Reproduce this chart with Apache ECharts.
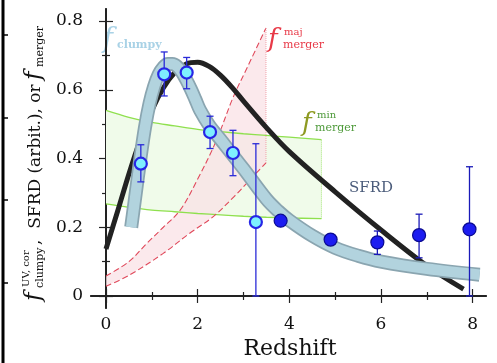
<!DOCTYPE html>
<html>
<head>
<meta charset="utf-8">
<script src="https://cdn.jsdelivr.net/npm/echarts@6/dist/echarts.min.js"></script>
<style>
  html, body { margin: 0; padding: 0; background: #fff; }
  #chart { width: 497px; height: 363px; }
</style>
</head>
<body>
<div id="chart"></div>
<script>
// ---- data ----
// measured clumpy fractions (low redshift, light symbols)
const clumpyZ  = [0.76, 1.27, 1.76, 2.27, 2.77, 3.27];
const clumpyF  = [0.385, 0.645, 0.65, 0.477, 0.416, 0.215];
const clumpyLo = [0.332, 0.582, 0.603, 0.429, 0.35, 0.0];
const clumpyHi = [0.44, 0.71, 0.694, 0.523, 0.482, 0.443];

// measured clumpy fractions (high redshift, dark symbols)
const highZ  = [3.81, 4.9, 5.92, 6.83, 7.93];
const highF  = [0.219, 0.164, 0.156, 0.177, 0.194];
const highLo = [0.219, 0.164, 0.121, 0.111, 0.0];
const highHi = [0.219, 0.164, 0.189, 0.238, 0.376];

// cosmic star-formation rate density (arbitrary units)
const sfrdZ = [0, 0.25, 0.5, 0.75, 1.0, 1.25, 1.5, 1.75, 2.0, 2.25, 2.5, 2.75, 3.0, 3.5, 4.0, 5.0, 6.0, 7.0, 7.8];
const sfrdY = [0.137, 0.245, 0.355, 0.455, 0.54, 0.605, 0.65, 0.675, 0.68, 0.668, 0.642, 0.607, 0.567, 0.49, 0.42, 0.303, 0.192, 0.088, 0.02];

// clumpy-fraction trend
const trendZ = [0.55, 0.65, 0.75, 0.85, 0.95, 1.05, 1.15, 1.25, 1.35, 1.45, 1.55, 1.65, 1.75, 1.85, 1.95, 2.05,
                2.25, 2.5, 3.0, 3.5, 3.75, 4.0, 4.5, 5.0, 5.5, 6.0, 7.0, 8.15];
const trendY = [0.2, 0.3, 0.4, 0.49, 0.56, 0.61, 0.645, 0.665, 0.675, 0.675, 0.668, 0.652, 0.629, 0.602, 0.572, 0.541,
                0.497, 0.455, 0.37, 0.282, 0.248, 0.22, 0.175, 0.14, 0.117, 0.1, 0.079, 0.062];

// major-merger fraction range
const majZ  = [0, 0.5, 0.89, 1.25, 1.62, 2.0, 2.4, 2.78, 3.1, 3.49];
const majHi = [0.058, 0.1, 0.153, 0.2, 0.25, 0.34, 0.45, 0.58, 0.67, 0.78];
const majLoZ = [0, 0.5, 1.25, 1.8, 2.34, 2.8, 3.14, 3.49];
const majLo  = [0.028, 0.06, 0.124, 0.18, 0.231, 0.29, 0.338, 0.387];

// minor-merger fraction range
const minZ  = [0, 0.5, 1, 1.5, 2, 2.5, 3, 3.5, 4, 4.7];
const minHi = [0.54, 0.52, 0.505, 0.495, 0.485, 0.478, 0.472, 0.467, 0.462, 0.455];
const minLo = [0.268, 0.258, 0.25, 0.245, 0.24, 0.236, 0.232, 0.229, 0.227, 0.225];

// axis ticks
const xMajor = [0, 2, 4, 6, 8];
const xMinor = [1, 3, 5, 7];
const yMajor = [0, 0.2, 0.4, 0.6, 0.8];
const yMinor = [0.1, 0.3, 0.5, 0.7];

// ---- helpers ----
const SERIF = '"DejaVu Serif", "Liberation Serif", serif';
const zip = (a, b) => a.map((v, i) => [v, b[i]]);

function bandPolygon(name, upper, lower, fill) {
  return {
    name, type: 'custom', silent: true, z: 1, clip: true,
    data: [[0, 0]],
    renderItem: (params, api) => {
      const pts = upper.map(p => api.coord(p)).concat(lower.slice().reverse().map(p => api.coord(p)));
      return { type: 'polygon', shape: { points: pts }, style: { fill: fill } };
    }
  };
}

function errorBars(name, xs, lo, hi, color) {
  return {
    name, type: 'custom', silent: true, z: 8,
    data: xs.map((x, i) => [x, lo[i], hi[i]]),
    renderItem: (params, api) => {
      const x = api.value(0);
      const a = api.coord([x, api.value(1)]);
      const b = api.coord([x, api.value(2)]);
      if (Math.abs(a[1] - b[1]) < 1) return { type: 'group', children: [] };
      const cap = 3.5;
      const st = { stroke: color, lineWidth: 1.3 };
      return {
        type: 'group', children: [
          { type: 'line', shape: { x1: a[0], y1: a[1], x2: b[0], y2: b[1] }, style: st },
          { type: 'line', shape: { x1: a[0] - cap, y1: a[1], x2: a[0] + cap, y2: a[1] }, style: st },
          { type: 'line', shape: { x1: b[0] - cap, y1: b[1], x2: b[0] + cap, y2: b[1] }, style: st }
        ]
      };
    }
  };
}

function lineSeries(name, data, style, z, smooth) {
  return {
    name, type: 'line', data, symbol: 'none', silent: true, z,
    smooth: smooth === undefined ? 0.35 : smooth,
    lineStyle: style
  };
}

function xAx(pos, ticks, len, labels) {
  return {
    type: 'value', position: pos, min: -0.327, max: 8.29,
    axisLine: { show: true, lineStyle: { color: '#222', width: 1.5 } },
    axisTick: { show: true, inside: true, length: len, customValues: ticks, lineStyle: { color: '#222', width: 1.2 } },
    axisLabel: labels ? { show: true, customValues: ticks, color: '#111', fontFamily: SERIF, fontSize: 17, margin: 8,
                          formatter: v => String(v) } : { show: false },
    splitLine: { show: false }
  };
}
function yAx(pos, ticks, len, labels) {
  return {
    type: 'value', position: pos, min: -0.035, max: 0.835,
    axisLine: { show: true, lineStyle: { color: '#222', width: 1.5 } },
    axisTick: { show: true, inside: true, length: len, customValues: ticks, lineStyle: { color: '#222', width: 1.2 } },
    axisLabel: labels ? { show: true, customValues: ticks, color: '#111', fontFamily: SERIF, fontSize: 17, margin: 8,
                          formatter: v => (v === 0 ? '0' : v.toFixed(1)) } : { show: false },
    splitLine: { show: false }
  };
}

// ---- annotations (text placed by its vertical centre) ----
function txt(x, y, text, size, fill, opts) {
  opts = opts || {};
  return {
    type: 'text', x, y, silent: true,
    style: {
      text, fill, fontFamily: SERIF, fontSize: size,
      fontStyle: opts.italic ? 'italic' : 'normal',
      fontWeight: opts.bold ? 'bold' : 'normal',
      align: opts.align || 'left', verticalAlign: 'middle'
    }
  };
}

const yTitle = {
  type: 'group', x: 42, y: 301, rotation: Math.PI / 2, silent: true,
  children: [
    txt(0, -8, 'f', 23, '#111', { italic: true }),
    txt(14, -16, 'UV, cor', 10, '#111'),
    txt(13, -2, 'clumpy', 11, '#111'),
    txt(56, -6, ',  SFRD (arbit.), or', 17, '#111'),
    txt(221, -8, 'f', 23, '#111', { italic: true }),
    txt(234, -2, 'merger', 11, '#111')
  ]
};

const leftEdge = {
  type: 'group', silent: true,
  children: [
    { type: 'line', shape: { x1: 3, y1: 0, x2: 3, y2: 363 }, style: { stroke: '#000', lineWidth: 3 } },
    ...[35, 118, 200, 283].map(y => ({ type: 'line', shape: { x1: 3, y1: y, x2: 8, y2: y }, style: { stroke: '#000', lineWidth: 1.5 } }))
  ]
};

const labels = [
  txt(103, 40, 'f', 27, '#a9d2e6', { italic: true }),
  txt(117, 45, 'clumpy', 11, '#a9d2e6', { bold: true }),
  txt(268, 40, 'f', 26, '#e83a48', { italic: true }),
  txt(284, 32, 'maj', 10, '#e83a48'),
  txt(283, 45, 'merger', 11, '#e83a48'),
  txt(302, 124, 'f', 26, '#8e9a22', { italic: true }),
  txt(317, 115, 'min', 10, '#4e9a3a'),
  txt(315, 128, 'merger', 11, '#4e9a3a'),
  txt(349, 188, 'SFRD', 15, '#4a5b7a'),
  txt(290, 349, 'Redshift', 22, '#111', { align: 'center' })
];

const chart = echarts.init(document.getElementById('chart'), null, { renderer: 'canvas' });
chart.setOption({
  animation: false,
  backgroundColor: '#fff',
  grid: { left: 91, right: 11, top: 9, bottom: 55, containLabel: false },
  xAxis: [xAx('bottom', xMajor, 7, true), xAx('bottom', xMinor, 4, false),
          xAx('top', xMajor, 7, false), xAx('top', xMinor, 4, false)],
  yAxis: [yAx('left', yMajor, 7, true), yAx('left', yMinor, 4, false),
          yAx('right', yMajor, 7, false), yAx('right', yMinor, 4, false)],
  series: [
    bandPolygon('minor band', zip(minZ, minHi), zip(minZ, minLo), '#f0fbea'),
    bandPolygon('major band', zip(majZ, majHi), zip(majLoZ, majLo), 'rgba(250,226,230,0.75)'),
    lineSeries('minor hi', zip(minZ, minHi), { color: '#8fe04e', width: 1.3 }, 3),
    lineSeries('minor lo', zip(minZ, minLo), { color: '#8fe04e', width: 1.3 }, 3),
    lineSeries('minor edge', [[minZ[minZ.length - 1], minLo[minLo.length - 1]], [minZ[minZ.length - 1], minHi[minHi.length - 1]]],
               { color: '#a6e77a', width: 1, type: 'dotted' }, 3, false),
    lineSeries('major hi', zip(majZ, majHi), { color: '#e0485a', width: 1.1, type: [6, 3] }, 3),
    lineSeries('major lo', zip(majLoZ, majLo), { color: '#e0485a', width: 1.1, type: [6, 3] }, 3),
    lineSeries('major edge', [[majZ[majZ.length - 1], majLo[majLo.length - 1]], [majZ[majZ.length - 1], majHi[majHi.length - 1]]],
               { color: '#f0a0aa', width: 1, type: 'dotted' }, 3, false),
    lineSeries('SFRD', zip(sfrdZ, sfrdY), { color: '#222', width: 5, cap: 'butt' }, 4),
    lineSeries('trend edge', zip(trendZ, trendY), { color: '#8aa5b0', width: 14, cap: 'butt' }, 5),
    lineSeries('trend', zip(trendZ, trendY), { color: '#b2d3de', width: 10.5, cap: 'butt' }, 6),
    errorBars('clumpy err', clumpyZ, clumpyLo, clumpyHi, '#2a2ad8'),
    errorBars('high err', highZ, highLo, highHi, '#1a1ab8'),
    {
      name: 'clumpy', type: 'scatter', z: 9, silent: true, symbolSize: 12,
      data: zip(clumpyZ, clumpyF),
      itemStyle: { color: '#7ef0ff', borderColor: '#2626e6', borderWidth: 2.2, opacity: 1 }
    },
    {
      name: 'high', type: 'scatter', z: 9, silent: true, symbolSize: 13,
      data: zip(highZ, highF),
      itemStyle: { color: '#1c1cf0', borderColor: '#0a0a90', borderWidth: 1.2, opacity: 1 }
    }
  ],
  graphic: [leftEdge, yTitle, ...labels]
});
</script>
</body>
</html>
